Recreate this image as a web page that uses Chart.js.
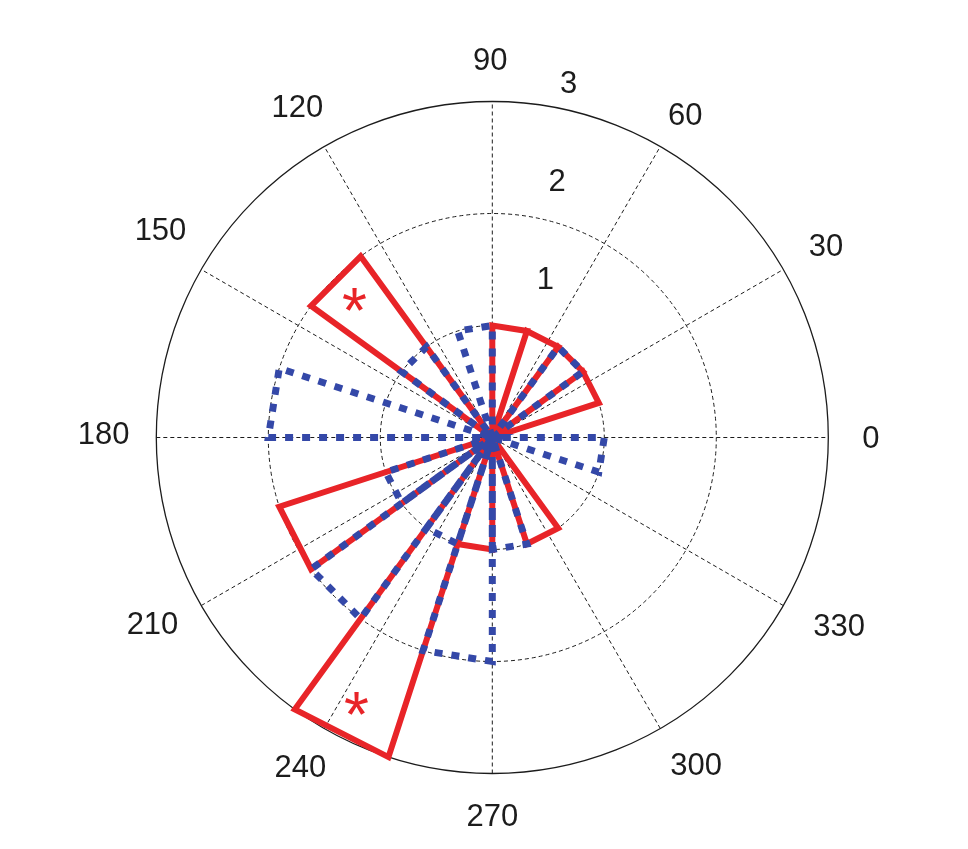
<!DOCTYPE html>
<html>
<head>
<meta charset="utf-8">
<script src="https://cdn.jsdelivr.net/npm/chart.js@4"></script>
<style>
  html, body { margin: 0; padding: 0; background: #ffffff; }
  #wrap { width: 968px; height: 849px; position: relative; }
</style>
</head>
<body>
<div id="wrap"><canvas id="rose-canvas"></canvas></div>
<script>
// rose histogram, 20 bins of 18 degrees (counts per bin, bin start angle in degrees)
const binWidth = 18;
const binStarts = [0, 18, 36, 54, 72, 90, 108, 126, 144, 162, 180, 198, 216, 234, 252, 270, 288, 306, 324, 342];
const redCounts = [0, 1, 1, 1, 1, 0, 0, 2, 0, 0, 0, 2, 0, 3, 1, 0, 1, 0, 0, 0];
const blueCounts = [0, 0, 1, 0, 0, 1, 0, 1, 0, 2, 0, 1, 2, 1, 2, 1, 0, 0, 0, 1];

const angleTicks = [0, 30, 60, 90, 120, 150, 180, 210, 240, 270, 300, 330];
const radialTicks = [1, 2, 3];

// significance marks (angle in degrees, radius in counts)
const starAngles = [135, 243];
const starRadii = [1.74, 2.67];

const rMax = 3;
const canvasW = 968;
const canvasH = 849;
const centerPx = { x: 492.3, y: 437.5 };
const unitPx = 112;

// pixel nudges for the angle labels, same order as angleTicks
const labelNudgeX = [-1, 5, 3, -2, -5, -3, -9, -11, -2, 0, 14, 18];
const labelNudgeY = [2, 0, 8, 4, 0, -16, -2, -2, 2, 0, 0, 0];

const RED = "rgb(232, 36, 40)";
const BLUE = "rgb(52, 72, 168)";
const INK = "#1c1c1c";
const FONT = '31px "Liberation Sans", Arial, Helvetica, sans-serif';

function toRad(deg) {
  return (deg * Math.PI) / 180;
}

// same polygon as matlab rose: origin -> edge1 -> edge2 -> origin for each bin
function rosePoints(counts) {
  const pts = [];
  counts.forEach((n, i) => {
    const a1 = toRad(binStarts[i]);
    const a2 = toRad(binStarts[i] + binWidth);
    pts.push({ x: 0, y: 0 });
    pts.push({ x: n * Math.cos(a1), y: n * Math.sin(a1) });
    pts.push({ x: n * Math.cos(a2), y: n * Math.sin(a2) });
    pts.push({ x: 0, y: 0 });
  });
  return pts;
}

const polarGrid = {
  id: "polarGrid",
  beforeDatasetsDraw(chart) {
    const { ctx } = chart;
    const { x, y } = chart.scales;
    const cx = x.getPixelForValue(0);
    const cy = y.getPixelForValue(0);
    const unit = x.getPixelForValue(1) - cx;

    ctx.save();
    ctx.strokeStyle = INK;

    ctx.lineWidth = 1.3;
    ctx.setLineDash([]);
    ctx.beginPath();
    ctx.arc(cx, cy, rMax * unit, 0, Math.PI * 2);
    ctx.stroke();

    ctx.lineWidth = 1;
    ctx.setLineDash([4, 3]);
    radialTicks.filter((t) => t < rMax).forEach((t) => {
      ctx.beginPath();
      ctx.arc(cx, cy, t * unit, 0, Math.PI * 2);
      ctx.stroke();
    });
    angleTicks.filter((a) => a < 180).forEach((a) => {
      const c = Math.cos(toRad(a)) * rMax;
      const s = Math.sin(toRad(a)) * rMax;
      ctx.beginPath();
      ctx.moveTo(x.getPixelForValue(-c), y.getPixelForValue(-s));
      ctx.lineTo(x.getPixelForValue(c), y.getPixelForValue(s));
      ctx.stroke();
    });
    ctx.restore();
  },
  afterDatasetsDraw(chart) {
    const { ctx } = chart;
    const { x, y } = chart.scales;
    ctx.save();
    ctx.fillStyle = INK;
    ctx.font = FONT;
    ctx.textAlign = "center";
    ctx.textBaseline = "middle";

    const labelR = rMax * 1.13;
    angleTicks.forEach((a, i) => {
      const px = x.getPixelForValue(labelR * Math.cos(toRad(a))) + labelNudgeX[i];
      const py = y.getPixelForValue(labelR * Math.sin(toRad(a))) + labelNudgeY[i];
      ctx.fillText(String(a), px, py);
    });

    radialTicks.forEach((t) => {
      const px = x.getPixelForValue(0.37 + 0.104 * t);
      const py = y.getPixelForValue(0.54 + 0.877 * t) + 2;
      ctx.fillText(String(t), px, py);
    });

    ctx.fillStyle = RED;
    ctx.font = '64px "Liberation Sans", Arial, sans-serif';
    ctx.textBaseline = "alphabetic";
    starAngles.forEach((a, i) => {
      const px = x.getPixelForValue(starRadii[i] * Math.cos(toRad(a)));
      const py = y.getPixelForValue(starRadii[i] * Math.sin(toRad(a)));
      const m = ctx.measureText("*");
      const mid = (m.actualBoundingBoxAscent - m.actualBoundingBoxDescent) / 2;
      ctx.fillText("*", px, py + mid);
    });
    ctx.restore();
  },
};

new Chart(document.querySelector("#rose-canvas"), {
  type: "scatter",
  data: {
    datasets: [
      {
        label: "blue",
        data: rosePoints(blueCounts),
        showLine: true,
        borderColor: BLUE,
        borderWidth: 7,
        borderDash: [8, 9],
        borderCapStyle: "butt",
        borderJoinStyle: "miter",
        pointRadius: 0,
        fill: false,
        order: 0,
      },
      {
        label: "red",
        data: rosePoints(redCounts),
        showLine: true,
        borderColor: RED,
        borderWidth: 6,
        borderCapStyle: "butt",
        borderJoinStyle: "miter",
        pointRadius: 0,
        fill: false,
        order: 1,
      },
    ],
  },
  options: {
    responsive: true,
    maintainAspectRatio: false,
    animation: false,
    layout: { padding: 0 },
    plugins: { legend: { display: false }, tooltip: { enabled: false } },
    scales: {
      x: {
        type: "linear",
        display: false,
        min: -centerPx.x / unitPx,
        max: (canvasW - centerPx.x) / unitPx,
      },
      y: {
        type: "linear",
        display: false,
        min: -(canvasH - centerPx.y) / unitPx,
        max: centerPx.y / unitPx,
      },
    },
  },
  plugins: [polarGrid],
});
</script>
</body>
</html>
